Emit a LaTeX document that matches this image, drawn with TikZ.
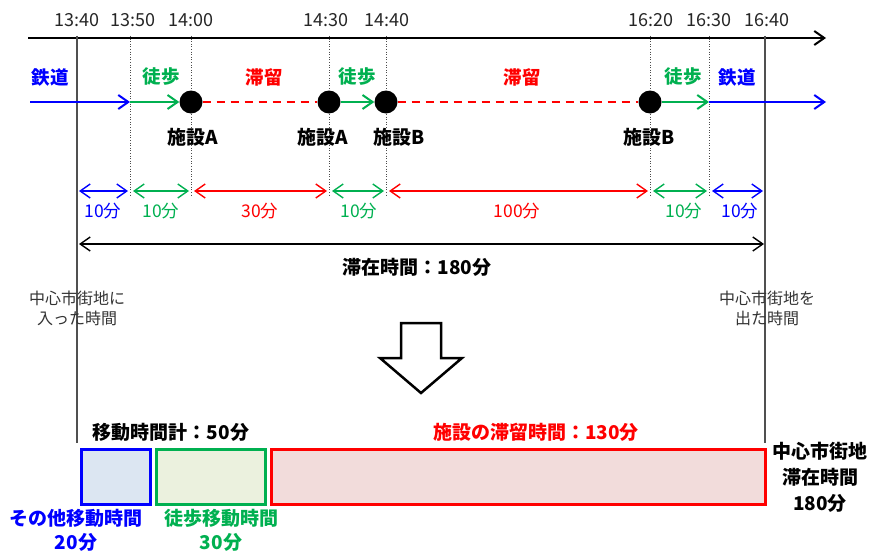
\documentclass[tikz,border=0pt]{standalone}
\usepackage{fontspec}
\setmainfont{Noto Sans CJK JP}
\usetikzlibrary{arrows.meta}
\definecolor{cblue}{RGB}{0,0,255}
\definecolor{cgreen}{RGB}{0,176,80}
\definecolor{cred}{RGB}{255,0,0}
\definecolor{fblue}{RGB}{220,230,242}
\definecolor{fgreen}{RGB}{235,241,222}
\definecolor{fred}{RGB}{242,220,219}
\definecolor{vgray}{RGB}{80,80,80}
\begin{document}
\begin{tikzpicture}[x=1pt,y=-1pt,
  timelbl/.style={font=\fontsize{18}{18}\selectfont, text=black!85, inner sep=0pt},
  modelbl/.style={font=\bfseries\fontsize{18.5}{18}\selectfont, inner sep=0pt},
  placelbl/.style={font=\bfseries\fontsize{19}{19}\selectfont, inner sep=0pt},
  durlbl/.style={font=\fontsize{17.5}{17}\selectfont, inner sep=0pt},
  notelbl/.style={font=\fontsize{16}{20}\selectfont, text=black!80, align=center, inner sep=0pt},
  boldlbl/.style={font=\bfseries\fontsize{19}{24}\selectfont, align=center, inner sep=0pt},
  flow/.style={line width=2pt, -{Straight Barb[length=10pt,width=14pt,line width=2pt]}},
  stay/.style={line width=2pt, cred, dash pattern=on 8pt off 6pt},
  dur/.style={line width=1.4pt, {Straight Barb[length=10pt,width=14pt,line width=1.4pt]}-{Straight Barb[length=10pt,width=14pt,line width=1.4pt]}},
  dotline/.style={line width=0.6pt, dotted, black!70},
  solidv/.style={line width=1.2pt, vgray},
  dot/.style={circle, fill=black, minimum size=23pt, inner sep=0pt},
  bar/.style={line width=3pt}
]
\useasboundingbox (0,0) rectangle (872,551);

% time axis
\coordinate (axL) at (28,38);
\coordinate (axR) at (826,38);
\draw[line width=2pt, -{Straight Barb[length=10pt,width=14pt,line width=2pt]}] (axL) -- (axR);

% tick coordinates
\foreach \n/\x in {a/77,b/130,c/191,d/329,e/386,f/650,g/709,h/765}{
  \coordinate (top\n) at (\x,36);
  \coordinate (bot\n) at (\x,197);
  \coordinate (row\n) at (\x,102);
  \coordinate (dur\n) at (\x,191);
}
\coordinate (longa) at (77,443);
\coordinate (longh) at (765,443);

% vertical guides
\draw[solidv] (topa) -- (longa);
\draw[solidv] (toph) -- (longh);
\foreach \n in {b,c,d,e,f,g}{ \draw[dotline] (top\n) -- (bot\n); }

% time labels
\node[timelbl] (l1) at (77,20) {13:40};
\node[timelbl] (l2) at (133,20) {13:50};
\node[timelbl] (l3) at (191,20) {14:00};
\node[timelbl] (l4) at (326,20) {14:30};
\node[timelbl] (l5) at (387,20) {14:40};
\node[timelbl] (l6) at (651,20) {16:20};
\node[timelbl] (l7) at (709,20) {16:30};
\node[timelbl] (l8) at (767,20) {16:40};

% facility dots
\node[dot] (A1) at (rowc) {};
\node[dot] (A2) at (rowd) {};
\node[dot] (B1) at (rowe) {};
\node[dot] (B2) at (rowf) {};

% flows
\coordinate (start) at (30,102);
\coordinate (endr) at (826,102);
\draw[flow, cblue] (start) -- (rowb);
\draw[flow, cgreen] (rowb) -- (A1.west);
\draw[stay] (A1.east) -- (A2.west);
\draw[flow, cgreen] (A2.east) -- (B1.west);
\draw[stay] (B1.east) -- (B2.west);
\draw[flow, cgreen] (B2.east) -- (rowg);
\draw[flow, cblue] (rowg) -- (endr);

% mode labels
\node[modelbl, cblue] (m1) at (50,77) {鉄道};
\node[modelbl, cgreen] (m2) at (161,77) {徒歩};
\node[modelbl, cred] (m3) at (264,77) {滞留};
\node[modelbl, cgreen] (m4) at (357,77) {徒歩};
\node[modelbl, cred] (m5) at (522,77) {滞留};
\node[modelbl, cgreen] (m6) at (683,77) {徒歩};
\node[modelbl, cblue] (m7) at (737,77) {鉄道};

% place labels
\node[placelbl] (p1) at (193,137) {施設A};
\node[placelbl] (p2) at (323,137) {施設A};
\node[placelbl] (p3) at (399,137) {施設B};
\node[placelbl] (p4) at (649,137) {施設B};

% duration arrows
\draw[dur, cblue] ([xshift=2pt]dura) -- ([xshift=-2pt]durb);
\draw[dur, cgreen] ([xshift=3pt]durb) -- ([xshift=-2pt]durc);
\draw[dur, cred] ([xshift=3pt]durc) -- ([xshift=-2pt]durd);
\draw[dur, cgreen] ([xshift=3pt]durd) -- ([xshift=-2pt]dure);
\draw[dur, cred] ([xshift=3pt]dure) -- ([xshift=-2pt]durf);
\draw[dur, cgreen] ([xshift=3pt]durf) -- ([xshift=-2pt]durg);
\draw[dur, cblue] ([xshift=3pt]durg) -- ([xshift=-2pt]durh);

\node[durlbl, cblue] (d1) at (103,211) {10分};
\node[durlbl, cgreen] (d2) at (161,211) {10分};
\node[durlbl, cred] (d3) at (260,211) {30分};
\node[durlbl, cgreen] (d4) at (359,211) {10分};
\node[durlbl, cred] (d5) at (517,211) {100分};
\node[durlbl, cgreen] (d6) at (684,211) {10分};
\node[durlbl, cblue] (d7) at (740,211) {10分};

% total stay arrow
\coordinate (totL) at (79,244);
\coordinate (totR) at (764,244);
\draw[dur, black] (totL) -- (totR);
\node[boldlbl] (tot) at (417,267) {滞在時間：180分};

% enter / exit notes
\node[notelbl] (enter) at (77,308) {中心市街地に\\入った時間};
\node[notelbl] (exit) at (767,308) {中心市街地を\\出た時間};

% hollow down arrow
\draw[line width=2.5pt, fill=white, line join=miter]
  (401,323) -- (441,323) -- (441,358) -- (462,358) -- (421,393)
  -- (380,358) -- (401,358) -- cycle;

% bottom bars
\node[bar, draw=cblue, fill=fblue, minimum width=69pt, minimum height=55pt, anchor=north west] (bx1) at (80,448) {};
\node[bar, draw=cgreen, fill=fgreen, minimum width=109pt, minimum height=55pt, anchor=north west] (bx2) at (155,448) {};
\node[bar, draw=cred, fill=fred, minimum width=494pt, minimum height=55pt, anchor=north west] (bx3) at (270,448) {};

\node[boldlbl] (mv) at (171,432) {移動時間計：50分};
\node[boldlbl, cred] (st) at (536,432) {施設の滞留時間：130分};

\node[boldlbl, cblue] (o1) at (76,530) {その他移動時間\\20分};
\node[boldlbl, cgreen] (o2) at (221,530) {徒歩移動時間\\30分};
\node[boldlbl, font=\bfseries\fontsize{19}{26}\selectfont] (cc) at (820,477) {中心市街地\\滞在時間\\180分};
\end{tikzpicture}
\end{document}
